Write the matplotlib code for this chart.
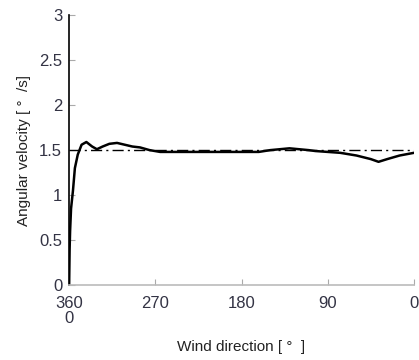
import numpy as np
import matplotlib.pyplot as plt

plt.rcParams['font.family'] = ['Liberation Sans', 'Noto Sans CJK JP', 'DejaVu Sans']

# wind direction [deg] and angular velocity [deg/s]
wind_dir = [360, 359.5, 359, 358, 356, 354, 351, 347, 342, 336, 331, 325,
            318, 310, 302, 294, 286, 276, 265, 250, 230, 210, 180, 162,
            150, 140, 130, 120, 110, 103, 90, 77, 60, 45, 37, 28, 15, 5, 0]
ang_vel = [0, 0.4, 0.6, 0.85, 1.05, 1.3, 1.45, 1.56, 1.59, 1.54, 1.51, 1.54,
           1.57, 1.58, 1.56, 1.54, 1.53, 1.50, 1.48, 1.48, 1.48, 1.48, 1.48,
           1.48, 1.50, 1.51, 1.52, 1.51, 1.50, 1.49, 1.48, 1.47, 1.44, 1.40,
           1.37, 1.40, 1.44, 1.46, 1.47]
ref_level = 1.5

xticks = [360, 270, 180, 90, 0]
xticklabels = ['360\n0', '270', '180', '90', '0']
yticks = [0, 0.5, 1, 1.5, 2, 2.5, 3]
yticklabels = ['0', '0.5', '1', '1.5', '2', '2.5', '3']

fig = plt.figure(figsize=(4.19, 3.6), dpi=100)
ax = fig.add_axes([0.165, 0.208, 0.823, 0.75])

ax.plot([360, 0], [ref_level, ref_level], color='black', lw=1.0,
        linestyle=(0, (8, 3, 1.5, 3)))
ax.plot(wind_dir, ang_vel, color='black', lw=1.8)

ax.set_xlim(360, 0)
ax.set_ylim(0, 3)
ax.set_xticks(xticks)
ax.set_xticklabels(xticklabels, linespacing=1.0)
ax.set_yticks(yticks)
ax.set_yticklabels(yticklabels)

for s in ['top', 'right']:
    ax.spines[s].set_visible(False)
ax.spines['left'].set_color('black')
ax.spines['left'].set_linewidth(1.2)
ax.spines['bottom'].set_color('#bbbbbb')
ax.spines['bottom'].set_linewidth(1.2)

ax.tick_params(axis='both', direction='in', length=4, color='#aaaaaa',
               labelsize=12, labelcolor='#333344')
ax.tick_params(axis='y', pad=5)
ax.tick_params(axis='x', pad=8)

ax.set_xlabel('Wind direction [ °  ]', fontsize=11, color='#222222', labelpad=10)
ax.set_ylabel('Angular velocity [ °  /s]', fontsize=11, color='#222222', labelpad=6)

fig.savefig('out.png', dpi=100)
